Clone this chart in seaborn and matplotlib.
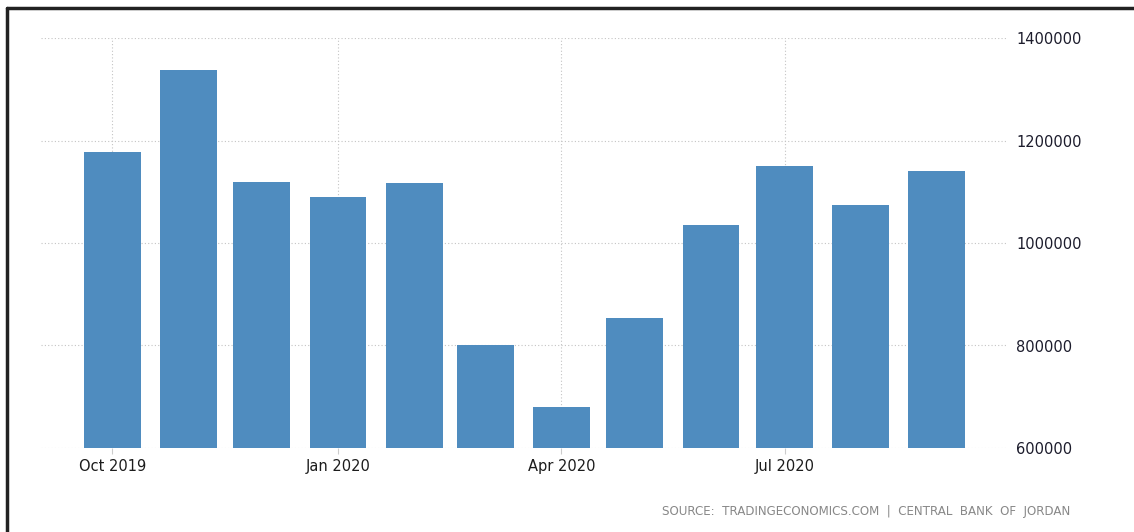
import matplotlib
matplotlib.use("Agg")
import matplotlib.pyplot as plt
import matplotlib.dates as mdates
from matplotlib.lines import Line2D
import seaborn as sns
import pandas as pd

# monthly values (Oct 2019 - Sep 2020)
months = ["2019-10-01", "2019-11-01", "2019-12-01", "2020-01-01", "2020-02-01", "2020-03-01",
          "2020-04-01", "2020-05-01", "2020-06-01", "2020-07-01", "2020-08-01", "2020-09-01"]
values = [1177000, 1338000, 1119000, 1090000, 1117000, 801000,
          680000, 853000, 1035000, 1150000, 1074000, 1140000]
tick_dates = ["2019-10-01", "2020-01-01", "2020-04-01", "2020-07-01"]
tick_labels = ["Oct 2019", "Jan 2020", "Apr 2020", "Jul 2020"]
y_ticks = [600000, 800000, 1000000, 1200000, 1400000]

df = pd.DataFrame({"date": mdates.date2num(pd.to_datetime(months)), "value": values})

sns.set_style("white")
fig = plt.figure(figsize=(11.34, 5.32), dpi=100)
ax = fig.add_axes([41 / 1134, 84 / 532, 967 / 1134, 410 / 532])

sns.barplot(data=df, x="date", y="value", native_scale=True, color="#4f8cbf",
            saturation=1, width=0.8, ax=ax, edgecolor="none")

ax.set_xlim(mdates.date2num(pd.Timestamp("2019-09-02")), mdates.date2num(pd.Timestamp("2020-09-30")))
ax.set_ylim(600000, 1400000)

ax.set_xticks(mdates.date2num(pd.to_datetime(tick_dates)))
ax.set_xticklabels(tick_labels)
ax.set_yticks(y_ticks)
ax.set_yticklabels([str(v) for v in y_ticks])
ax.yaxis.tick_right()
ax.tick_params(axis="y", length=0, pad=6, labelsize=10.5, labelcolor="#1c1c2c")
ax.tick_params(axis="x", length=4, color="#cccccc", direction="out", pad=4,
               labelsize=10.5, labelcolor="#1c1c1c", bottom=True)

ax.grid(True, axis="both", linestyle=(0, (1, 2)), color="#c4c4c4", linewidth=0.8)
ax.set_axisbelow(True)
for s in ax.spines.values():
    s.set_visible(False)
ax.set_xlabel("")
ax.set_ylabel("")

# outer frame lines (left and top)
fig.add_artist(Line2D([7 / 1134, 7 / 1134], [0, 1 - 8 / 532], transform=fig.transFigure,
                      color="#222222", linewidth=2.5))
fig.add_artist(Line2D([7 / 1134, 1], [1 - 8 / 532, 1 - 8 / 532], transform=fig.transFigure,
                      color="#222222", linewidth=2.5))

fig.text(1070 / 1134, 1 - 512 / 532, "SOURCE:  TRADINGECONOMICS.COM  |  CENTRAL  BANK  OF  JORDAN",
         ha="right", va="center", fontsize=8.6, color="#888888")

fig.savefig("out.png", dpi=100)
